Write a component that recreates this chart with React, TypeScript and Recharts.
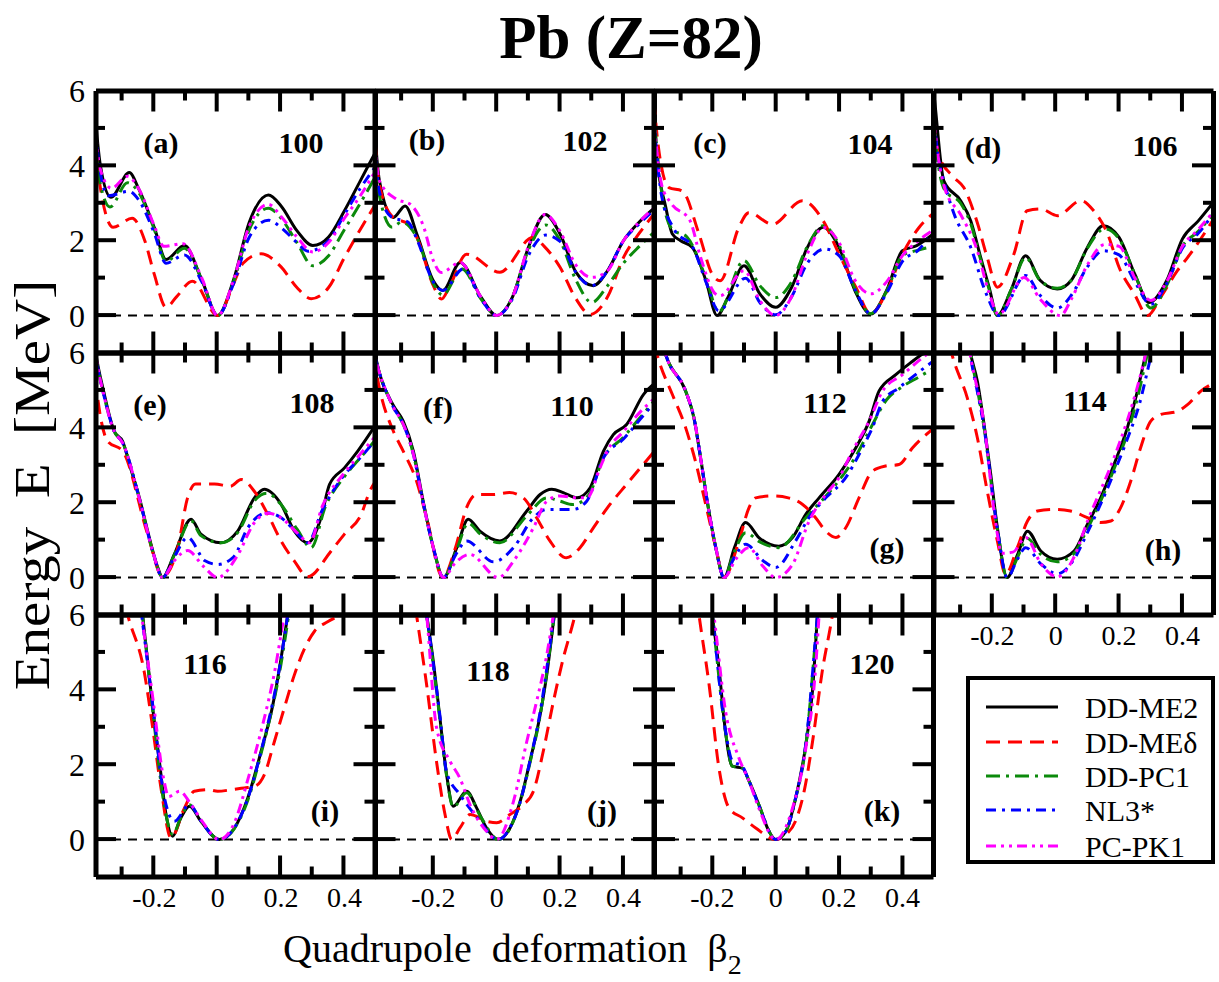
import React from 'react';
import { LineChart, Line, XAxis, YAxis, ReferenceLine } from 'recharts';

type Pt = [number, number];

// ---------------- data (beta2, E in MeV) ----------------
const pb100_DDME2: Pt[] = [[-0.4,6.8],[-0.37,4.0],[-0.337,3.16],[-0.279,3.82],[-0.25,3.4],[-0.2,2.35],[-0.163,1.5],[-0.105,1.87],[-0.05,0.95],[0,0],[0.05,0.95],[0.1,2.5],[0.16,3.22],[0.2,2.93],[0.25,2.27],[0.3,1.87],[0.35,2.1],[0.4,2.8],[0.45,3.6],[0.5,4.4]];
const pb100_DDMEd: Pt[] = [[-0.4,6.0],[-0.37,3.4],[-0.33,2.36],[-0.27,2.6],[-0.23,2.0],[-0.2,1.1],[-0.163,0.22],[-0.13,0.5],[-0.08,0.92],[0,0],[0.05,0.85],[0.08,1.4],[0.137,1.65],[0.2,1.3],[0.25,0.75],[0.295,0.45],[0.35,0.75],[0.4,1.55],[0.45,2.3],[0.5,3.0]];
const pb100_DDPC1: Pt[] = [[-0.4,6.2],[-0.37,3.5],[-0.34,2.9],[-0.285,3.55],[-0.25,3.3],[-0.2,2.3],[-0.163,1.45],[-0.105,1.8],[-0.05,0.95],[0,0],[0.05,0.9],[0.1,2.3],[0.16,2.87],[0.2,2.6],[0.25,1.95],[0.3,1.33],[0.35,1.6],[0.4,2.3],[0.45,3.0],[0.5,3.75]];
const pb100_NL3s: Pt[] = [[-0.4,6.5],[-0.37,3.8],[-0.345,3.2],[-0.28,3.32],[-0.25,3.1],[-0.2,2.2],[-0.163,1.4],[-0.105,1.62],[-0.05,0.9],[0,0],[0.05,0.85],[0.1,2.1],[0.16,2.55],[0.2,2.35],[0.25,1.95],[0.285,1.72],[0.35,2.0],[0.4,2.7],[0.45,3.4],[0.5,4.0]];
const pb100_PCPK1: Pt[] = [[-0.4,6.5],[-0.37,3.9],[-0.335,3.4],[-0.285,3.72],[-0.25,3.4],[-0.2,2.4],[-0.17,1.85],[-0.11,1.92],[-0.05,1.0],[0,0],[0.05,0.95],[0.1,2.4],[0.16,2.97],[0.2,2.65],[0.25,2.1],[0.3,1.7],[0.35,1.95],[0.4,2.6],[0.45,3.2],[0.5,3.9]];

const pb102_DDME2: Pt[] = [[-0.4,7.0],[-0.37,3.6],[-0.326,2.62],[-0.289,2.93],[-0.25,2.13],[-0.2,0.93],[-0.17,0.67],[-0.115,1.42],[-0.05,0.5],[0,0],[0.05,0.5],[0.1,1.82],[0.153,2.7],[0.2,2.18],[0.25,1.16],[0.305,0.8],[0.35,1.2],[0.4,2.0],[0.45,2.5],[0.5,2.9]];
const pb102_DDMEd: Pt[] = [[-0.4,7.0],[-0.37,3.5],[-0.326,2.62],[-0.28,2.45],[-0.25,2.05],[-0.2,0.8],[-0.174,0.44],[-0.15,0.75],[-0.095,1.64],[0.01,1.16],[0.115,2.09],[0.15,1.85],[0.2,1.29],[0.25,0.45],[0.295,0.03],[0.35,0.5],[0.4,1.55],[0.45,2.2],[0.5,2.75]];
const pb102_DDPC1: Pt[] = [[-0.4,6.5],[-0.37,3.2],[-0.33,2.36],[-0.3,2.5],[-0.25,2.05],[-0.2,0.85],[-0.17,0.55],[-0.11,1.25],[-0.05,0.45],[0,0],[0.05,0.5],[0.1,1.75],[0.155,2.42],[0.2,2.0],[0.25,0.95],[0.3,0.35],[0.35,0.8],[0.4,1.4],[0.45,1.85],[0.5,2.25]];
const pb102_NL3s: Pt[] = [[-0.4,6.8],[-0.37,3.3],[-0.33,2.62],[-0.28,2.5],[-0.25,2.0],[-0.2,0.9],[-0.17,0.67],[-0.105,1.25],[-0.05,0.45],[0,0],[0.05,0.45],[0.1,1.6],[0.155,2.15],[0.2,1.98],[0.25,1.15],[0.3,0.8],[0.35,1.2],[0.4,2.0],[0.45,2.45],[0.5,2.85]];
const pb102_PCPK1: Pt[] = [[-0.4,6.5],[-0.37,3.6],[-0.316,3.11],[-0.274,2.98],[-0.23,2.36],[-0.2,1.47],[-0.175,1.15],[-0.115,1.42],[-0.05,0.5],[0,0],[0.05,0.5],[0.1,1.85],[0.153,2.7],[0.2,2.25],[0.25,1.35],[0.3,1.02],[0.35,1.2],[0.4,2.0],[0.45,2.5],[0.5,2.9]];

const pb104_DDME2: Pt[] = [[-0.4,7.5],[-0.379,4.5],[-0.347,2.9],[-0.326,2.18],[-0.3,2.0],[-0.263,1.82],[-0.22,0.93],[-0.185,0],[-0.15,0.5],[-0.1,1.33],[-0.05,0.58],[0,0.22],[0.05,0.75],[0.1,1.82],[0.15,2.36],[0.2,1.82],[0.25,0.67],[0.3,0.04],[0.35,0.67],[0.4,1.73],[0.445,1.87],[0.5,2.2]];
const pb104_DDMEd: Pt[] = [[-0.4,7.5],[-0.37,4.5],[-0.337,3.42],[-0.295,3.33],[-0.242,2.18],[-0.2,1.1],[-0.175,0.93],[-0.116,2.36],[-0.085,2.75],[-0.01,2.44],[0.084,3.07],[0.15,2.53],[0.2,1.64],[0.253,0.76],[0.3,0.04],[0.347,0.58],[0.4,1.64],[0.453,2.36],[0.5,2.75]];
const pb104_DDPC1: Pt[] = [[-0.4,7.3],[-0.36,3.3],[-0.326,2.3],[-0.28,2.1],[-0.22,1.0],[-0.18,0.1],[-0.1,1.47],[-0.05,0.8],[0,0.48],[0.05,0.9],[0.1,1.85],[0.15,2.4],[0.2,1.88],[0.25,0.72],[0.3,0.05],[0.35,0.65],[0.4,1.6],[0.45,1.75],[0.5,1.85]];
const pb104_NL3s: Pt[] = [[-0.4,7.3],[-0.36,3.2],[-0.32,2.3],[-0.26,1.8],[-0.22,0.9],[-0.18,0.13],[-0.095,1.0],[-0.05,0.35],[0,0.02],[0.05,0.5],[0.1,1.4],[0.155,1.78],[0.2,1.6],[0.25,0.7],[0.3,0.05],[0.35,0.6],[0.4,1.45],[0.45,1.75],[0.5,2.3]];
const pb104_PCPK1: Pt[] = [[-0.4,7.0],[-0.36,3.5],[-0.33,3.0],[-0.27,2.53],[-0.24,1.64],[-0.19,0.58],[-0.175,0.53],[-0.1,1.2],[-0.05,0.4],[0,0],[0.05,0.5],[0.1,1.65],[0.15,2.35],[0.2,1.95],[0.25,0.95],[0.3,0.58],[0.35,0.9],[0.4,1.6],[0.45,2.0],[0.5,2.3]];

const pb106_DDME2: Pt[] = [[-0.4,7.0],[-0.384,5.9],[-0.353,3.6],[-0.3,3.07],[-0.268,2.53],[-0.237,1.56],[-0.21,0.75],[-0.184,0],[-0.14,0.7],[-0.095,1.6],[-0.05,0.95],[0.005,0.71],[0.05,0.95],[0.1,1.82],[0.15,2.4],[0.2,2.09],[0.25,1.1],[0.295,0.35],[0.35,0.93],[0.4,2.05],[0.45,2.53],[0.5,3.05]];
const pb106_DDMEd: Pt[] = [[-0.4,7.0],[-0.37,4.3],[-0.321,3.69],[-0.29,3.42],[-0.248,2.5],[-0.216,1.55],[-0.184,0.76],[-0.132,1.64],[-0.09,2.8],[-0.047,2.85],[0.005,2.67],[0.08,3.07],[0.12,2.8],[0.164,2.18],[0.2,1.29],[0.248,0.58],[0.29,0],[0.332,0.5],[0.384,1.2],[0.416,1.55],[0.468,2.18],[0.5,2.6]];
const pb106_DDPC1: Pt[] = [[-0.4,6.8],[-0.37,4.0],[-0.35,3.35],[-0.3,3.0],[-0.268,2.45],[-0.237,1.5],[-0.21,0.7],[-0.184,0],[-0.14,0.7],[-0.095,1.55],[-0.05,0.95],[0.005,0.73],[0.05,0.95],[0.1,1.8],[0.155,2.32],[0.2,2.05],[0.25,1.1],[0.3,0.2],[0.35,0.8],[0.4,1.85],[0.45,2.25],[0.5,2.75]];
const pb106_NL3s: Pt[] = [[-0.4,6.8],[-0.37,4.2],[-0.353,3.6],[-0.32,2.7],[-0.268,1.82],[-0.22,0.6],[-0.18,0],[-0.095,1.07],[-0.05,0.55],[0.005,0.2],[0.05,0.55],[0.1,1.3],[0.15,1.73],[0.2,1.62],[0.25,0.9],[0.3,0.3],[0.35,0.85],[0.4,1.8],[0.45,2.2],[0.5,2.75]];
const pb106_PCPK1: Pt[] = [[-0.4,6.8],[-0.37,4.2],[-0.35,3.4],[-0.3,2.7],[-0.25,1.8],[-0.21,0.6],[-0.18,0.03],[-0.1,1.02],[-0.05,0.45],[0.015,0],[0.05,0.45],[0.1,1.35],[0.155,1.9],[0.2,1.85],[0.25,1.0],[0.3,0.4],[0.35,0.9],[0.4,1.85],[0.45,2.3],[0.5,2.8]];

const pb108_DDME2: Pt[] = [[-0.4,7.0],[-0.384,5.96],[-0.36,4.98],[-0.326,3.9],[-0.3,3.64],[-0.274,2.9],[-0.247,2.13],[-0.221,1.24],[-0.189,0.27],[-0.174,0],[-0.137,0.62],[-0.084,1.56],[-0.053,1.16],[0.01,0.93],[0.063,1.24],[0.116,2.13],[0.147,2.36],[0.2,1.96],[0.242,1.24],[0.284,0.93],[0.326,1.6],[0.353,2.49],[0.4,2.93],[0.442,3.38],[0.5,4.1]];
const pb108_DDMEd: Pt[] = [[-0.4,6.5],[-0.37,4.3],[-0.347,3.64],[-0.3,3.38],[-0.221,1.16],[-0.174,0.03],[-0.126,0.8],[-0.095,2.13],[-0.07,2.5],[-0.01,2.5],[0.04,2.44],[0.074,2.62],[0.116,2.3],[0.158,1.69],[0.2,0.98],[0.242,0.44],[0.284,0.02],[0.358,0.71],[0.4,1.16],[0.453,1.69],[0.48,2.31],[0.5,2.6]];
const pb108_DDPC1: Pt[] = [[-0.4,7.0],[-0.384,5.9],[-0.36,4.9],[-0.326,3.9],[-0.3,3.6],[-0.247,2.1],[-0.205,0.7],[-0.174,0],[-0.137,0.6],[-0.084,1.52],[-0.053,1.12],[0.01,0.93],[0.063,1.2],[0.116,2.05],[0.155,2.25],[0.2,1.95],[0.25,1.3],[0.295,0.8],[0.34,1.9],[0.4,2.7],[0.45,3.2],[0.5,3.7]];
const pb108_NL3s: Pt[] = [[-0.4,7.0],[-0.384,5.9],[-0.36,4.9],[-0.326,3.9],[-0.3,3.6],[-0.247,2.1],[-0.205,0.7],[-0.174,0],[-0.137,0.55],[-0.095,1.07],[-0.04,0.45],[0,0.35],[0.05,0.55],[0.095,1.33],[0.158,1.73],[0.2,1.6],[0.253,1.16],[0.284,0.93],[0.33,1.8],[0.4,2.75],[0.45,3.2],[0.5,3.7]];
const pb108_PCPK1: Pt[] = [[-0.4,7.0],[-0.384,5.9],[-0.36,4.9],[-0.326,3.9],[-0.3,3.6],[-0.247,2.1],[-0.205,0.7],[-0.174,0],[-0.137,0.45],[-0.095,0.72],[-0.045,0.3],[0,0],[0.063,0.6],[0.116,1.47],[0.158,1.72],[0.2,1.6],[0.25,1.2],[0.29,0.93],[0.33,1.9],[0.4,2.8],[0.45,3.3],[0.5,3.8]];

const pb110_DDME2: Pt[] = [[-0.4,6.5],[-0.384,5.96],[-0.368,5.4],[-0.326,4.6],[-0.295,4.18],[-0.263,3.38],[-0.232,2.04],[-0.2,0.8],[-0.168,0],[-0.126,0.8],[-0.09,1.56],[-0.053,1.24],[0.01,0.98],[0.095,1.78],[0.137,2.22],[0.174,2.36],[0.21,2.27],[0.253,2.13],[0.295,2.4],[0.337,3.38],[0.368,3.82],[0.41,4.09],[0.463,4.89],[0.5,5.2]];
const pb110_DDMEd: Pt[] = [[-0.4,6.5],[-0.368,4.98],[-0.326,3.91],[-0.295,3.38],[-0.253,2.58],[-0.221,1.6],[-0.17,0],[-0.13,0.8],[-0.095,1.87],[-0.063,2.22],[-0.01,2.22],[0.04,2.27],[0.084,2.13],[0.126,1.6],[0.168,0.98],[0.22,0.53],[0.263,0.8],[0.305,1.33],[0.358,1.96],[0.41,2.49],[0.5,3.4]];
const pb110_DDPC1: Pt[] = [[-0.4,6.5],[-0.384,5.9],[-0.326,4.55],[-0.295,4.1],[-0.263,3.3],[-0.232,2.0],[-0.2,0.8],[-0.168,0],[-0.126,0.75],[-0.09,1.45],[-0.05,1.15],[0.01,0.93],[0.095,1.65],[0.158,2.13],[0.2,2.04],[0.24,1.95],[0.29,2.2],[0.337,3.2],[0.4,3.75],[0.45,4.25],[0.5,4.75]];
const pb110_NL3s: Pt[] = [[-0.4,6.5],[-0.384,5.9],[-0.326,4.55],[-0.295,4.1],[-0.263,3.3],[-0.232,2.0],[-0.2,0.8],[-0.168,0],[-0.13,0.6],[-0.095,0.98],[-0.01,0.42],[0.053,0.8],[0.116,1.6],[0.158,1.82],[0.24,1.82],[0.284,2.04],[0.337,3.2],[0.4,3.7],[0.45,4.2],[0.5,4.7]];
const pb110_PCPK1: Pt[] = [[-0.4,6.5],[-0.384,5.9],[-0.326,4.55],[-0.295,4.1],[-0.263,3.3],[-0.232,2.0],[-0.2,0.8],[-0.168,0],[-0.13,0.4],[-0.085,0.62],[0.005,0],[0.053,0.44],[0.116,1.33],[0.158,2.04],[0.2,2.18],[0.253,2.13],[0.285,2.13],[0.326,2.93],[0.35,3.4],[0.4,3.9],[0.45,4.4],[0.5,4.8]];

const pb112_DDME2: Pt[] = [[-0.4,8.0],[-0.347,5.96],[-0.284,4.98],[-0.258,4.27],[-0.237,3.2],[-0.216,2.04],[-0.189,0.8],[-0.163,0],[-0.13,0.8],[-0.095,1.47],[-0.053,1.07],[0.01,0.84],[0.053,1.07],[0.095,1.69],[0.137,2.13],[0.2,2.76],[0.253,3.47],[0.295,4.18],[0.326,4.98],[0.379,5.42],[0.432,5.78],[0.5,6.2]];
const pb112_DDMEd: Pt[] = [[-0.4,6.8],[-0.368,5.78],[-0.326,4.89],[-0.284,4.0],[-0.253,3.1],[-0.221,1.96],[-0.189,0.8],[-0.163,0],[-0.116,0.98],[-0.084,1.87],[-0.063,2.13],[-0.01,2.18],[0.04,2.13],[0.084,1.96],[0.126,1.6],[0.158,1.24],[0.19,1.07],[0.221,1.33],[0.263,2.13],[0.305,2.84],[0.347,2.98],[0.389,3.02],[0.432,3.47],[0.5,4.0]];
const pb112_DDPC1: Pt[] = [[-0.4,8.0],[-0.347,5.96],[-0.284,4.98],[-0.258,4.27],[-0.237,3.2],[-0.216,2.04],[-0.189,0.8],[-0.163,0],[-0.13,0.7],[-0.095,1.2],[-0.05,0.95],[0.01,0.8],[0.095,1.6],[0.2,2.6],[0.25,3.2],[0.3,4.0],[0.35,4.75],[0.4,5.1],[0.45,5.35],[0.5,5.6]];
const pb112_NL3s: Pt[] = [[-0.4,8.0],[-0.347,5.96],[-0.284,4.98],[-0.258,4.27],[-0.237,3.2],[-0.216,2.04],[-0.189,0.8],[-0.163,0],[-0.13,0.55],[-0.095,0.89],[-0.04,0.45],[0,0.27],[0.063,0.98],[0.105,1.6],[0.158,2.13],[0.221,2.67],[0.274,3.47],[0.305,4.0],[0.337,4.7],[0.389,5.07],[0.453,5.5],[0.5,5.8]];
const pb112_PCPK1: Pt[] = [[-0.4,8.0],[-0.347,5.96],[-0.284,4.98],[-0.258,4.27],[-0.237,3.2],[-0.216,2.04],[-0.189,0.8],[-0.163,0],[-0.125,0.5],[-0.085,0.8],[-0.04,0.3],[0,0],[0.053,0.35],[0.105,1.5],[0.158,2.22],[0.2,2.67],[0.242,3.38],[0.295,4.18],[0.337,4.98],[0.4,5.42],[0.463,5.87],[0.5,6.1]];

const pb114_DDME2: Pt[] = [[-0.4,11],[-0.3,7.6],[-0.268,5.96],[-0.247,5.24],[-0.226,4.09],[-0.205,2.76],[-0.184,1.33],[-0.153,0],[-0.12,0.62],[-0.089,1.24],[-0.047,0.71],[0.005,0.49],[0.058,0.71],[0.1,1.42],[0.142,2.13],[0.184,3.02],[0.226,4.0],[0.258,4.98],[0.279,5.78],[0.3,6.5],[0.5,13]];
const pb114_DDMEd: Pt[] = [[-0.4,8.5],[-0.321,5.78],[-0.279,4.8],[-0.247,3.73],[-0.216,2.31],[-0.184,0.98],[-0.158,0.09],[-0.121,0.8],[-0.089,1.51],[-0.058,1.78],[-0.005,1.82],[0.047,1.78],[0.1,1.6],[0.142,1.47],[0.174,1.51],[0.205,1.87],[0.237,2.58],[0.268,3.47],[0.3,4.18],[0.332,4.36],[0.384,4.44],[0.416,4.62],[0.458,4.98],[0.5,5.2]];
const pb114_DDPC1: Pt[] = [[-0.4,11],[-0.3,7.6],[-0.268,5.96],[-0.226,4.0],[-0.184,1.3],[-0.153,0],[-0.12,0.55],[-0.09,1.05],[-0.045,0.6],[0.005,0.42],[0.055,0.62],[0.1,1.3],[0.184,2.9],[0.226,3.85],[0.258,4.8],[0.29,6.0],[0.5,13]];
const pb114_NL3s: Pt[] = [[-0.4,11],[-0.3,7.6],[-0.27,5.96],[-0.226,4.0],[-0.184,1.3],[-0.153,0],[-0.12,0.5],[-0.095,0.8],[-0.045,0.35],[0.005,0.1],[0.055,0.45],[0.1,1.2],[0.184,2.8],[0.226,3.7],[0.263,4.6],[0.3,5.9],[0.5,13]];
const pb114_PCPK1: Pt[] = [[-0.4,11],[-0.3,7.6],[-0.27,5.96],[-0.226,4.1],[-0.19,1.5],[-0.17,0.65],[-0.135,0.68],[-0.095,1.07],[-0.045,0.35],[0.005,0.02],[0.055,0.5],[0.1,1.5],[0.184,3.2],[0.226,4.2],[0.258,5.1],[0.285,6.0],[0.5,13]];

const pb116_DDME2: Pt[] = [[-0.35,13],[-0.3,10],[-0.237,6.0],[-0.221,4.76],[-0.205,3.51],[-0.184,2.09],[-0.163,0.67],[-0.142,0.09],[-0.116,0.58],[-0.089,0.89],[-0.053,0.49],[0.005,0],[0.053,0.31],[0.095,1.11],[0.137,2.36],[0.174,3.6],[0.2,4.84],[0.221,6.0],[0.3,11]];
const pb116_DDMEd: Pt[] = [[-0.35,8.5],[-0.284,6.0],[-0.232,4.49],[-0.205,2.98],[-0.179,1.38],[-0.147,0.04],[-0.105,0.84],[-0.074,1.29],[-0.03,1.33],[0,1.29],[0.042,1.33],[0.084,1.38],[0.116,1.42],[0.147,1.73],[0.179,2.62],[0.21,3.51],[0.242,4.4],[0.274,5.1],[0.305,5.56],[0.347,5.82],[0.379,5.96],[0.5,6.5]];
const pb116_DDPC1: Pt[] = [[-0.35,13],[-0.3,10],[-0.237,6.0],[-0.205,3.45],[-0.163,0.65],[-0.142,0.13],[-0.116,0.6],[-0.089,0.93],[-0.053,0.5],[0.005,0],[0.053,0.3],[0.095,1.05],[0.137,2.3],[0.2,4.7],[0.224,6.0],[0.3,11]];
const pb116_NL3s: Pt[] = [[-0.35,13],[-0.3,10],[-0.24,6.0],[-0.205,3.6],[-0.17,1.2],[-0.137,0.49],[-0.089,0.93],[-0.053,0.5],[0.005,0],[0.053,0.32],[0.095,1.1],[0.137,2.36],[0.2,4.84],[0.221,6.0],[0.3,11]];
const pb116_PCPK1: Pt[] = [[-0.35,13],[-0.3,10],[-0.24,6.0],[-0.205,3.8],[-0.17,1.6],[-0.155,1.15],[-0.12,1.29],[-0.085,0.95],[-0.05,0.5],[0.005,0],[0.05,0.4],[0.1,1.75],[0.14,3.0],[0.18,4.5],[0.21,6.0],[0.3,10]];

const pb118_DDME2: Pt[] = [[-0.35,12],[-0.221,6.0],[-0.2,4.76],[-0.179,3.24],[-0.158,1.73],[-0.137,0.89],[-0.095,1.29],[-0.063,0.84],[-0.032,0.31],[0.005,0],[0.042,0.31],[0.074,1.02],[0.105,2.09],[0.137,3.33],[0.158,4.4],[0.179,5.82],[0.25,11]];
const pb118_DDMEd: Pt[] = [[-0.3,8.5],[-0.253,6.0],[-0.221,4.13],[-0.19,2.09],[-0.163,0.67],[-0.142,0],[-0.116,0.31],[-0.084,0.67],[-0.032,0.49],[0,0.45],[0.042,0.67],[0.084,0.93],[0.116,1.29],[0.147,2.36],[0.179,3.69],[0.21,4.84],[0.242,5.82],[0.3,8]];
const pb118_DDPC1: Pt[] = [[-0.35,12],[-0.221,6.0],[-0.179,3.2],[-0.158,1.7],[-0.137,0.87],[-0.095,1.25],[-0.05,0.6],[0.005,0],[0.042,0.3],[0.074,1.0],[0.105,2.05],[0.137,3.3],[0.179,5.8],[0.25,11]];
const pb118_NL3s: Pt[] = [[-0.35,12],[-0.221,6.0],[-0.179,3.3],[-0.158,1.8],[-0.116,1.2],[-0.063,0.6],[0.005,0],[0.042,0.32],[0.074,1.0],[0.105,2.1],[0.137,3.4],[0.179,5.9],[0.25,11]];
const pb118_PCPK1: Pt[] = [[-0.3,10],[-0.221,6.0],[-0.19,3.0],[-0.147,2.09],[-0.116,1.64],[-0.084,0.93],[-0.032,0.22],[0,0],[0.053,1.02],[0.095,2.62],[0.126,3.69],[0.158,4.93],[0.179,6.0],[0.25,10]];

const pb120_DDME2: Pt[] = [[-0.3,13],[-0.2,6.0],[-0.179,4.58],[-0.158,2.85],[-0.137,1.96],[-0.105,1.91],[-0.084,1.56],[-0.053,0.93],[-0.021,0.22],[0,0],[0.032,0.22],[0.063,1.11],[0.095,2.53],[0.116,3.96],[0.132,6.0],[0.2,12]];
const pb120_DDMEd: Pt[] = [[-0.3,10],[-0.242,6.0],[-0.21,4.13],[-0.179,1.91],[-0.147,0.84],[-0.105,0.58],[-0.063,0.31],[0,0],[0.032,0.13],[0.063,0.5],[0.09,1.3],[0.116,2.6],[0.147,4.5],[0.179,6.0],[0.25,11]];
const pb120_DDPC1: Pt[] = [[-0.3,13],[-0.2,6.0],[-0.158,2.85],[-0.137,1.96],[-0.105,1.91],[-0.084,1.56],[-0.053,0.93],[0,0],[0.032,0.22],[0.063,1.1],[0.095,2.5],[0.132,6.0],[0.2,12]];
const pb120_NL3s: Pt[] = [[-0.3,13],[-0.2,6.0],[-0.16,3.0],[-0.137,2.1],[-0.105,1.95],[-0.084,1.56],[-0.053,0.9],[0,0],[0.032,0.22],[0.063,1.12],[0.095,2.55],[0.132,6.0],[0.2,12]];
const pb120_PCPK1: Pt[] = [[-0.3,12],[-0.195,6.0],[-0.158,3.42],[-0.116,2.18],[-0.084,1.56],[-0.053,0.84],[0,0],[0.053,0.84],[0.095,2.44],[0.126,4.58],[0.137,6.0],[0.2,11]];

// ---------------- labels / ticks ----------------
const neutronNumbers = [100, 102, 104, 106, 108, 110, 112, 114, 116, 118, 120];
const panelTags = ['(a)', '(b)', '(c)', '(d)', '(e)', '(f)', '(g)', '(h)', '(i)', '(j)', '(k)'];
const modelNames = ['DD-ME2', 'DD-MEδ', 'DD-PC1', 'NL3*', 'PC-PK1'];
const betaMajorTicks = [-0.2, 0, 0.2, 0.4];
const betaMinorTicks = [-0.3, -0.1, 0.1, 0.3];
const energyMajorTicks = [0, 2, 4];
const energyMinorTicks = [1, 3, 5];
const energyLabelTicks = [0, 2, 4, 6];

const seriesByPanel: Pt[][][] = [
  [pb100_DDME2, pb100_DDMEd, pb100_DDPC1, pb100_NL3s, pb100_PCPK1],
  [pb102_DDME2, pb102_DDMEd, pb102_DDPC1, pb102_NL3s, pb102_PCPK1],
  [pb104_DDME2, pb104_DDMEd, pb104_DDPC1, pb104_NL3s, pb104_PCPK1],
  [pb106_DDME2, pb106_DDMEd, pb106_DDPC1, pb106_NL3s, pb106_PCPK1],
  [pb108_DDME2, pb108_DDMEd, pb108_DDPC1, pb108_NL3s, pb108_PCPK1],
  [pb110_DDME2, pb110_DDMEd, pb110_DDPC1, pb110_NL3s, pb110_PCPK1],
  [pb112_DDME2, pb112_DDMEd, pb112_DDPC1, pb112_NL3s, pb112_PCPK1],
  [pb114_DDME2, pb114_DDMEd, pb114_DDPC1, pb114_NL3s, pb114_PCPK1],
  [pb116_DDME2, pb116_DDMEd, pb116_DDPC1, pb116_NL3s, pb116_PCPK1],
  [pb118_DDME2, pb118_DDMEd, pb118_DDPC1, pb118_NL3s, pb118_PCPK1],
  [pb120_DDME2, pb120_DDMEd, pb120_DDPC1, pb120_NL3s, pb120_PCPK1],
];

// ---------------- styling / layout ----------------
const FONT = '"Liberation Serif", "Times New Roman", Times, serif';
const modelStyles = [
  { color: '#000000', dash: undefined as string | undefined },
  { color: '#ff0000', dash: '14 8' },
  { color: '#0b8a0b', dash: '14 6 3 6' },
  { color: '#0000ff', dash: '10 6 3 6' },
  { color: '#ff00ff', dash: '10 5 3 5 3 5' },
];
const COL_LEFT0 = 95;
const COL_W = 279.5;
const ROW_TOP0 = 90.5;
const ROW_H = 262;
const PAD = 45;
const X_DOMAIN: [number, number] = [-0.384, 0.498];
const Y_DOMAIN: [number, number] = [-1, 6];
const MAJOR_PX = 21;
const MINOR_PX = 10;
const panelGrid = [[0, 0], [0, 1], [0, 2], [0, 3], [1, 0], [1, 1], [1, 2], [1, 3], [2, 0], [2, 1], [2, 2]];
const tagPos = [[161, 142], [427, 139], [710, 142], [983, 147], [150, 404], [438, 407], [887, 547], [1163, 549], [325, 810], [602, 810], [882, 810]];
const numPos = [[301, 142], [585, 140], [870, 143], [1155, 145], [312, 402], [572, 405], [825, 402], [1085, 400], [205, 663], [488, 670], [872, 663]];
const legendRows = [707, 742, 776, 810, 846];

const axisStroke = { stroke: '#000', strokeWidth: 5 };

// Inward frame ticks for one panel box (same linear mapping as the panel axes).
function FrameTicks({ left, top }: { left: number; top: number }) {
  const sx = (b: number) => left + ((b - X_DOMAIN[0]) / (X_DOMAIN[1] - X_DOMAIN[0])) * COL_W;
  const sy = (e: number) => top + ((Y_DOMAIN[1] - e) / (Y_DOMAIN[1] - Y_DOMAIN[0])) * ROW_H;
  const right = left + COL_W;
  const bottom = top + ROW_H;
  const items: React.ReactNode[] = [];
  const xt = (ticks: number[], len: number, tag: string) => ticks.forEach((t, i) => {
    const x = sx(t);
    items.push(<line key={tag + 'b' + i} x1={x} x2={x} y1={bottom} y2={bottom - len} />);
    items.push(<line key={tag + 't' + i} x1={x} x2={x} y1={top} y2={top + len} />);
  });
  const yt = (ticks: number[], len: number, tag: string) => ticks.forEach((t, i) => {
    const y = sy(t);
    items.push(<line key={tag + 'l' + i} x1={left} x2={left + len} y1={y} y2={y} />);
    items.push(<line key={tag + 'r' + i} x1={right} x2={right - len} y1={y} y2={y} />);
  });
  xt(betaMajorTicks, MAJOR_PX, 'XM');
  xt(betaMinorTicks, MINOR_PX, 'Xm');
  yt(energyMajorTicks, MAJOR_PX, 'YM');
  yt(energyMinorTicks, MINOR_PX, 'Ym');
  return <g stroke="#000" strokeWidth={4}>{items}</g>;
}

function Panel({ idx }: { idx: number }) {
  const [row, col] = panelGrid[idx];
  const left = COL_LEFT0 + col * COL_W;
  const top = ROW_TOP0 + row * ROW_H;
  const showY = col === 0;
  const showX = row === 2 || idx === 7;
  const series = seriesByPanel[idx];
  return (
    <div style={{ position: 'absolute', left: left - PAD + (showY ? 1 : 0), top: top - PAD }}>
      <LineChart width={COL_W + 2 * PAD} height={ROW_H + 2 * PAD}
        margin={{ top: PAD, right: PAD, bottom: showX ? PAD - 1 : PAD, left: showY ? PAD - 1 : PAD }}>
        <XAxis xAxisId="b" type="number" dataKey="x" domain={X_DOMAIN} allowDataOverflow orientation="bottom" mirror height={1}
          ticks={betaMajorTicks} tick={false} tickLine={false} axisLine={axisStroke} />
        <XAxis xAxisId="t" type="number" dataKey="x" domain={X_DOMAIN} allowDataOverflow orientation="top" mirror height={1}
          ticks={betaMajorTicks} tick={false} tickLine={false} axisLine={axisStroke} />
        {showX && (
          <XAxis xAxisId="lab" type="number" dataKey="x" domain={X_DOMAIN} allowDataOverflow orientation="bottom" height={1}
            ticks={betaMajorTicks} interval={0} tickSize={0} tickMargin={10} tickLine={false} axisLine={false}
            tick={{ fontSize: 28, fill: '#000', fontFamily: FONT }} />
        )}
        <YAxis yAxisId="l" type="number" domain={Y_DOMAIN} allowDataOverflow orientation="left" mirror width={1}
          ticks={energyMajorTicks} tick={false} tickLine={false} axisLine={axisStroke} />
        <YAxis yAxisId="r" type="number" domain={Y_DOMAIN} allowDataOverflow orientation="right" mirror width={1}
          ticks={energyMajorTicks} tick={false} tickLine={false} axisLine={axisStroke} />
        {showY && (
          <YAxis yAxisId="ylab" type="number" domain={Y_DOMAIN} allowDataOverflow orientation="left" width={1}
            ticks={energyLabelTicks} interval={0} tickSize={0} tickMargin={11} tickLine={false} axisLine={false}
            tick={{ fontSize: 32, fill: '#000', fontFamily: FONT }} />
        )}
        <ReferenceLine xAxisId="b" yAxisId="l" y={0} stroke="#000" strokeWidth={2} strokeDasharray="9 7" />
        {series.map((pts, k) => (
          <Line key={k} xAxisId="b" yAxisId="l" data={pts.map(([x, y]) => ({ x, y }))} dataKey="y" type="monotone"
            stroke={modelStyles[k].color} strokeWidth={3} strokeDasharray={modelStyles[k].dash}
            dot={false} activeDot={false} isAnimationActive={false} name={modelNames[k]} />
        ))}
      </LineChart>
    </div>
  );
}

export default function App() {
  return (
    <div style={{ position: 'absolute', left: 0, top: 0, width: 1219, height: 982, background: '#fff', overflow: 'hidden', fontFamily: FONT }}>
      {neutronNumbers.map((_, i) => <Panel key={i} idx={i} />)}
      <svg width={1219} height={982} style={{ position: 'absolute', left: 0, top: 0, pointerEvents: 'none' }} fontFamily={FONT}>
        {panelGrid.map(([r, c], i) => (
          <FrameTicks key={'ft' + i} left={COL_LEFT0 + c * COL_W} top={ROW_TOP0 + r * ROW_H} />
        ))}
        <text x={631} y={58} textAnchor="middle" fontSize={61} fontWeight="bold">Pb (Z=82)</text>
        <text x={283} y={962} fontSize={40} style={{ whiteSpace: 'pre' }}>
          {'Quadrupole  deformation  β'}<tspan fontSize={28} dy={12}>2</tspan>
        </text>
        <text transform="translate(49,485) rotate(-90) scale(1,0.88)" textAnchor="middle" fontSize={57} style={{ whiteSpace: 'pre' }}>
          {'Energy  E  [MeV]'}
        </text>
        {panelTags.map((t, i) => (
          <text key={'t' + i} x={tagPos[i][0]} y={tagPos[i][1]} textAnchor="middle" dominantBaseline="central" fontSize={30} fontWeight="bold">{t}</text>
        ))}
        {neutronNumbers.map((n, i) => (
          <text key={'n' + i} x={numPos[i][0]} y={numPos[i][1]} textAnchor="middle" dominantBaseline="central" fontSize={30} fontWeight="bold">{n}</text>
        ))}
        <rect x={968} y={678} width={245} height={184} fill="#fff" stroke="#000" strokeWidth={4} />
        {modelNames.map((m, k) => (
          <g key={m}>
            <line x1={986} x2={1058} y1={legendRows[k]} y2={legendRows[k]} stroke={modelStyles[k].color} strokeWidth={3} strokeDasharray={modelStyles[k].dash} />
            <text x={1085} y={legendRows[k]} dominantBaseline="central" fontSize={30}>{m}</text>
          </g>
        ))}
      </svg>
    </div>
  );
}
